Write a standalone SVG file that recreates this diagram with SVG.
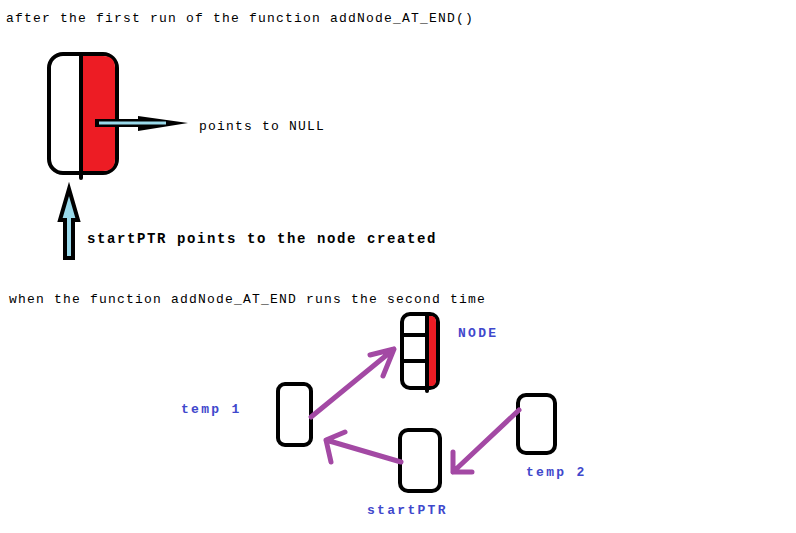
<svg xmlns="http://www.w3.org/2000/svg" width="796" height="533" viewBox="0 0 796 533">
<style>
.t{font-family:"Liberation Mono","DejaVu Sans Mono",monospace;font-size:13px;letter-spacing:1.2px;fill:#000}
.b{font-family:"Liberation Mono","DejaVu Sans Mono",monospace;font-size:14px;font-weight:bold;letter-spacing:1.6px;fill:#000}
.bl{font-family:"Liberation Mono","DejaVu Sans Mono",monospace;font-size:13px;font-weight:bold;letter-spacing:2.3px;fill:#3f48cc}
.box{fill:#fff;stroke:#000;stroke-width:4}
.ln{stroke:#000;stroke-width:4;fill:none;stroke-linecap:round}
.pa{stroke:#a349a4;stroke-width:5;fill:none;stroke-linecap:round;stroke-linejoin:round}
</style>
<rect width="796" height="533" fill="#fff"/>
<text class="t" x="6" y="22">after the first run of the function addNode_AT_END()</text>
<g id="node1">
<rect class="box" x="49" y="54" width="68" height="119" rx="14"/>
<path d="M81 56 H103 Q115 56 115 68 V159 Q115 171 103 171 H81 Z" fill="#ed1c24"/>
<line class="ln" x1="81" y1="54" x2="81" y2="178"/>
</g>
<g id="null-arrow">
<rect x="95" y="119" width="48" height="8" fill="#000"/>
<path d="M138 116 L188 123 L138 131 Z" fill="#000"/>
<line x1="99" y1="123" x2="166" y2="123" stroke="#99d9ea" stroke-width="3"/>
</g>
<text class="t" x="199" y="130">points to NULL</text>
<g id="start-arrow">
<path d="M65 258 V220 H60 L69 189 L78 220 H73 V258 Z" fill="#99d9ea" stroke="#000" stroke-width="4" stroke-linejoin="miter"/>
</g>
<text class="b" x="87" y="243">startPTR points to the node created</text>
<text class="t" x="9" y="303">when the function addNode_AT_END runs the second time</text>
<g id="node2">
<rect class="box" x="402" y="314" width="36" height="74" rx="8"/>
<path d="M427 316 H431 Q436 316 436 322 V380 Q436 386 431 386 H427 Z" fill="#ed1c24"/>
<line class="ln" x1="427" y1="314" x2="427" y2="391"/>
<line class="ln" x1="404" y1="335" x2="427" y2="335"/>
<line class="ln" x1="404" y1="361" x2="427" y2="361"/>
</g>
<text class="bl" x="458" y="337">NODE</text>
<g id="temp1">
<rect class="box" x="278" y="384" width="33" height="61" rx="7"/>
</g>
<text class="bl" x="181" y="413">temp 1</text>
<g id="startptr">
<rect class="box" x="400" y="430" width="40" height="61" rx="8"/>
</g>
<text class="bl" x="367" y="514">startPTR</text>
<g id="temp2">
<rect class="box" x="518" y="395" width="37" height="58" rx="8"/>
</g>
<text class="bl" x="526" y="476">temp 2</text>
<g id="connectors">
<path class="pa" d="M311 417 L394 349 M370 355 L394 349 L383 376"/>
<path class="pa" d="M401 462 L326 440 M345 432 L326 440 L331 462"/>
<path class="pa" d="M519 410 L453 472 M453 452 L453 472 L472 472"/>
</g>
</svg>
